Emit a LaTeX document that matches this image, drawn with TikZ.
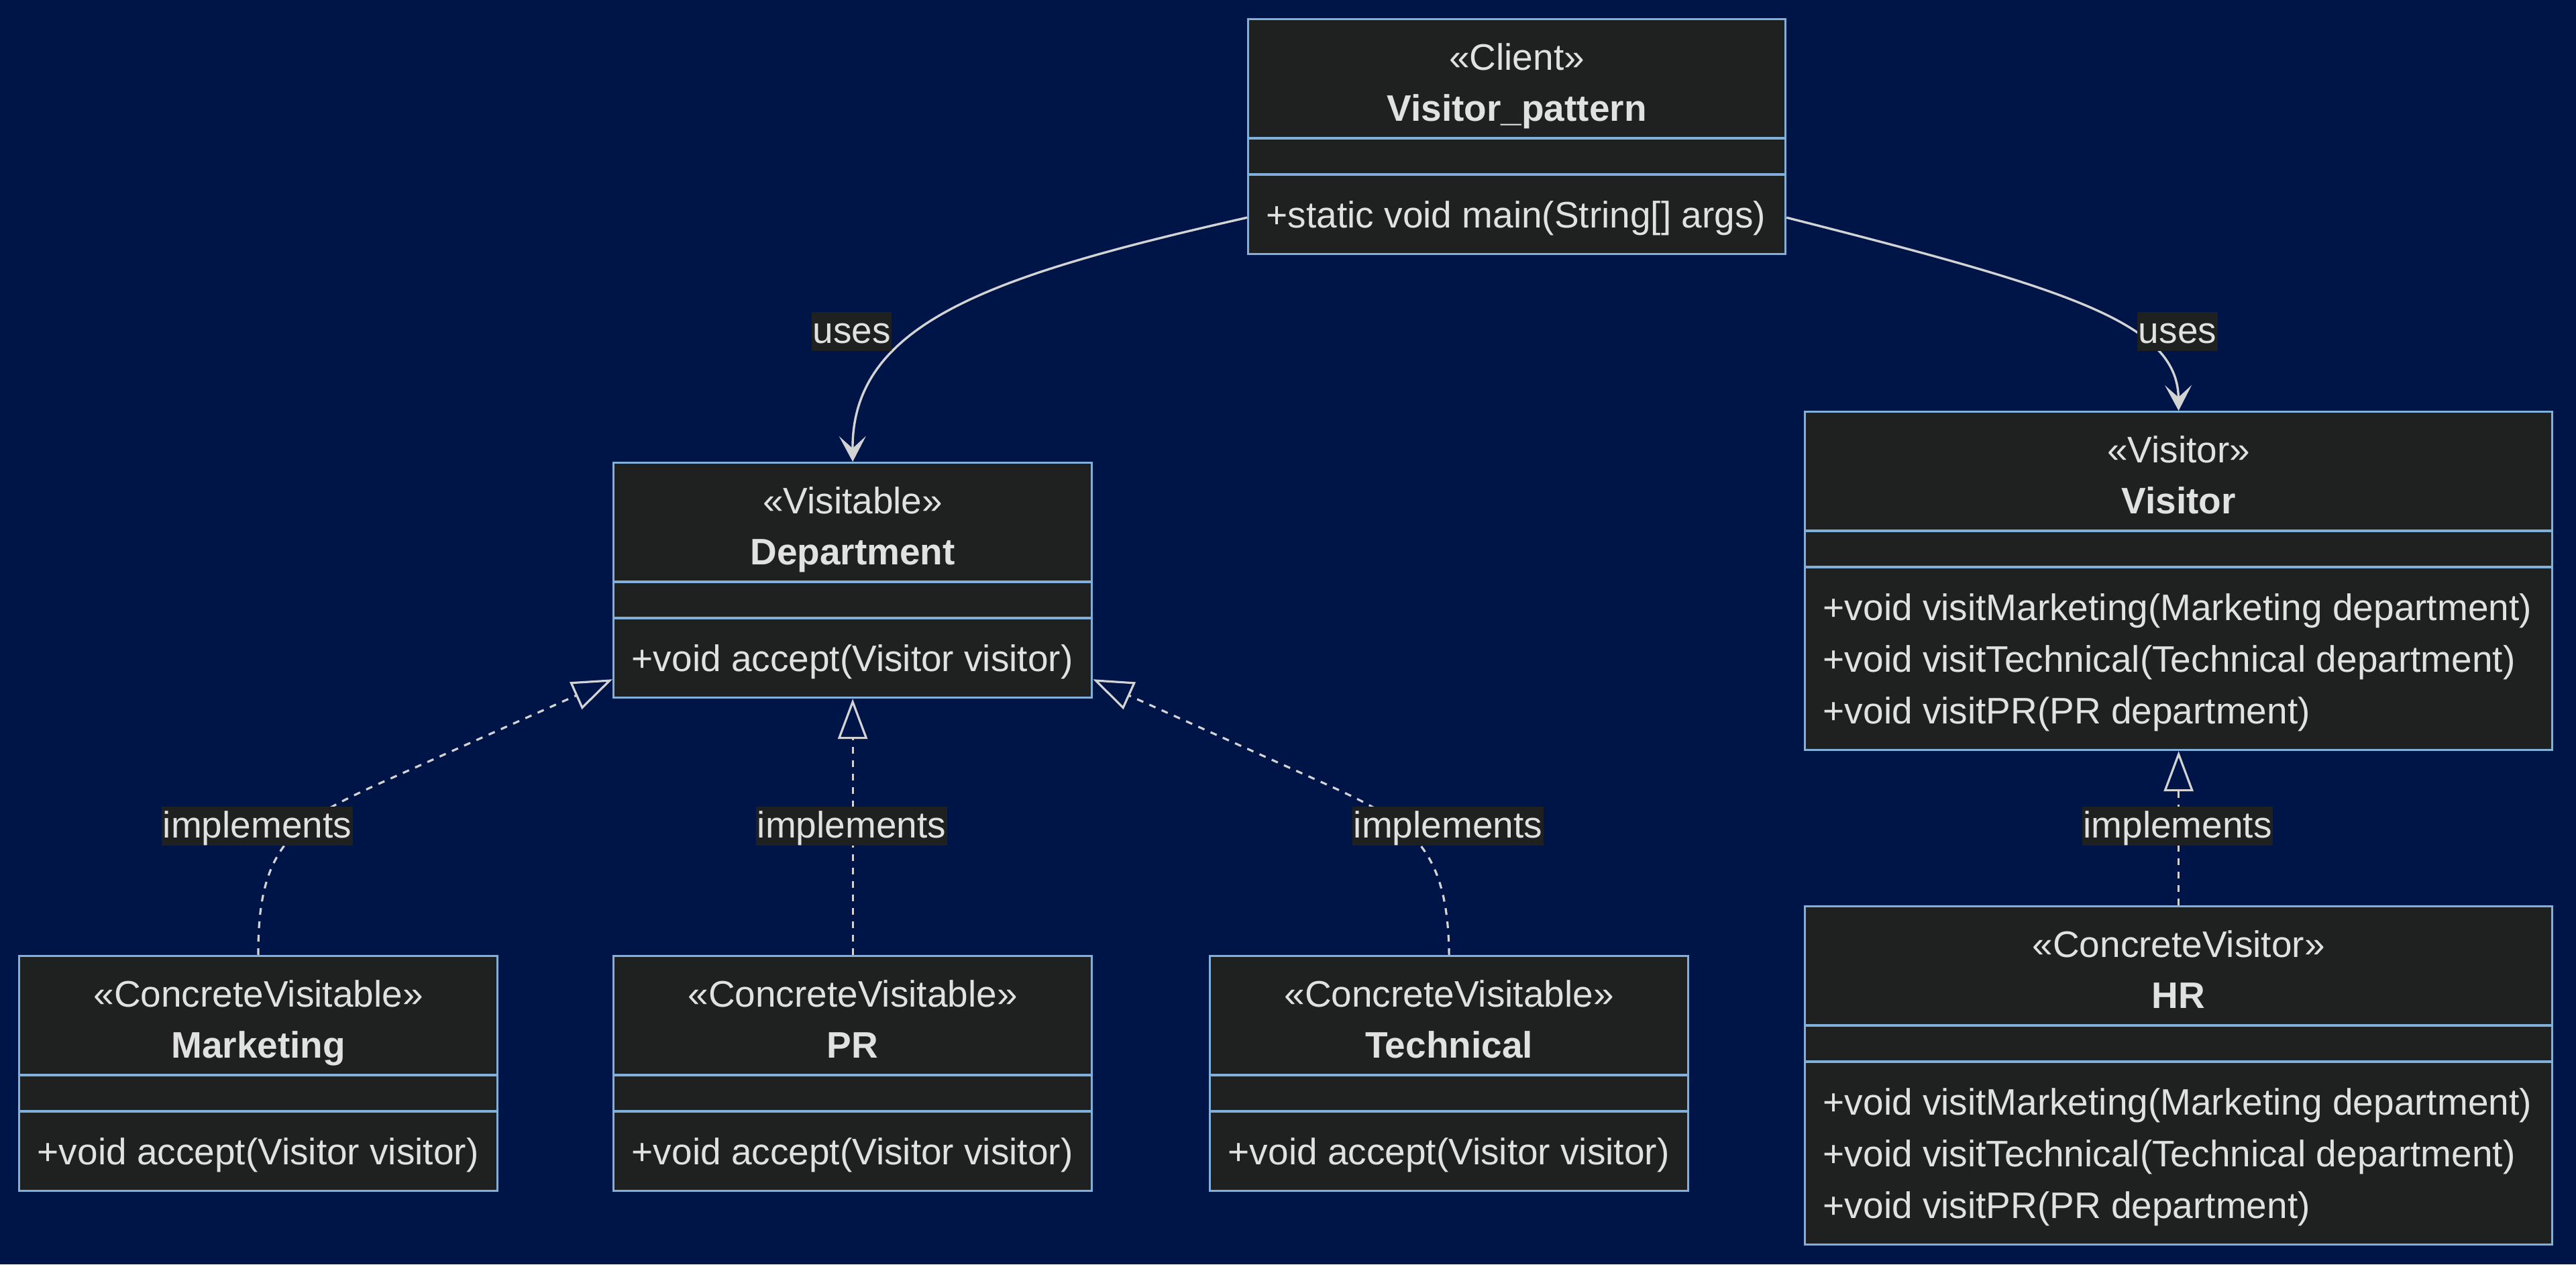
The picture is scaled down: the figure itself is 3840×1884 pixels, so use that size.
\documentclass[tikz,border=0pt]{standalone}
\usepackage{fontspec}
\setmainfont{Liberation Sans}
\usetikzlibrary{arrows.meta,calc}
\definecolor{bgc}{RGB}{0,21,71}
\definecolor{boxfill}{RGB}{31,32,32}
\definecolor{boxline}{RGB}{129,177,219}
\definecolor{txt}{RGB}{226,225,225}
\definecolor{edgec}{RGB}{211,211,211}

\newcommand\umlclass[7]{% #1 name, #2 x, #3 y, #4 width px, #5 method lines, #6 stereotype, #7 title
  \node[classbox, minimum width={#4*0.25pt}, minimum height={(350+77*(#5-1))*0.25pt}] (#1) at (#2,#3) {};
  \draw[divider] ($(#1.north west)+(0,179)$) -- ($(#1.north east)+(0,179)$);
  \draw[divider] ($(#1.north west)+(0,233)$) -- ($(#1.north east)+(0,233)$);
  \node[lbl] (#1-st) at ($(#1.north)+(0,77)$) {«#6»};
  \node[lbl, font=\fontsize{13.75pt}{16pt}\selectfont\bfseries] (#1-ti) at ($(#1.north)+(0,153)$) {#7};
}
\newcommand\umlmethod[3]{% #1 class, #2 index, #3 text
  \node[lbl, anchor=base west] (#1-m#2) at ($(#1.north west)+(28,312+77*#2)$) {#3};
}

\begin{document}
\begin{tikzpicture}[x=0.25pt,y=-0.25pt,
  classbox/.style={draw=boxline, fill=boxfill, line width=0.8pt, inner sep=0pt, anchor=north west},
  divider/.style={draw=boxline, line width=0.8pt},
  lbl/.style={text=txt, font=\fontsize{13.75pt}{16pt}\selectfont, inner sep=0pt, anchor=base},
  elabel/.style={fill=boxfill, text=txt, font=\fontsize{13.75pt}{16pt}\selectfont, inner xsep=0.4pt, inner ysep=0pt, text height=11.5pt, text depth=3pt, anchor=center},
  uses/.style={draw=edgec, line width=0.85pt, -{Stealth[length=9.5pt,width=10pt,inset=4.5pt]}},
  realize/.style={draw=edgec, line width=0.8pt, dash pattern=on 2.5pt off 2.5pt, -{Triangle[open,length=15pt,width=11pt]}}
]
\fill[bgc] (0,0) rectangle (3840,1884);
\useasboundingbox (0,0) rectangle (3840,1884);

\umlclass{client}{1859}{27}{801}{1}{Client}{Visitor\_pattern}
\umlmethod{client}{0}{+static void main(String[] args)}

\umlclass{dept}{913}{688}{713}{1}{Visitable}{Department}
\umlmethod{dept}{0}{+void accept(Visitor visitor)}

\umlclass{visitor}{2689}{612}{1114}{3}{Visitor}{Visitor}
\umlmethod{visitor}{0}{+void visitMarketing(Marketing department)}
\umlmethod{visitor}{1}{+void visitTechnical(Technical department)}
\umlmethod{visitor}{2}{+void visitPR(PR department)}

\umlclass{mkt}{27}{1423}{713}{1}{ConcreteVisitable}{Marketing}
\umlmethod{mkt}{0}{+void accept(Visitor visitor)}

\umlclass{pr}{913}{1423}{713}{1}{ConcreteVisitable}{PR}
\umlmethod{pr}{0}{+void accept(Visitor visitor)}

\umlclass{tech}{1802}{1423}{713}{1}{ConcreteVisitable}{Technical}
\umlmethod{tech}{0}{+void accept(Visitor visitor)}

\umlclass{hr}{2689}{1349}{1114}{3}{ConcreteVisitor}{HR}
\umlmethod{hr}{0}{+void visitMarketing(Marketing department)}
\umlmethod{hr}{1}{+void visitTechnical(Technical department)}
\umlmethod{hr}{2}{+void visitPR(PR department)}

% connectors
\draw[uses] ($(client.south west)+(0,-56)$) .. controls (1480,410) and (1269.5,480) .. (dept.north);
\draw[uses] ($(client.south east)+(0,-56)$) .. controls (3080,430) and (3246,480) .. (visitor.north);

\draw[realize] (mkt.north) .. controls (383.5,1260) and (440,1225) .. (560,1170) -- ($(dept.south west)+(0,-29)$);
\draw[realize] (pr.north) -- (dept.south);
\draw[realize] (tech.north) .. controls (2158.5,1260) and (2100,1225) .. (1980,1170) -- ($(dept.south east)+(0,-29)$);
\draw[realize] (hr.north) -- (visitor.south);

% edge labels
\node[elabel] (l1) at (1269.5,494) {uses};
\node[elabel] (l2) at (3246,494) {uses};
\node[elabel] (l3) at (383.5,1231) {implements};
\node[elabel] (l4) at (1269.5,1231) {implements};
\node[elabel] (l5) at (2158.5,1231) {implements};
\node[elabel] (l6) at (3246,1231) {implements};
\end{tikzpicture}
\end{document}
